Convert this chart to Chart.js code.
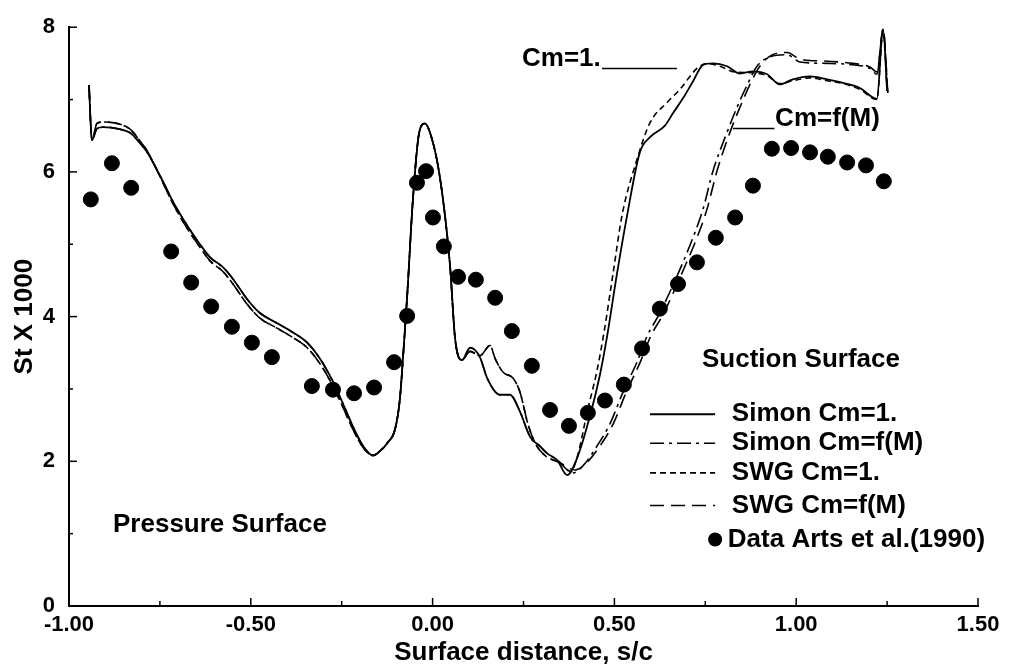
<!DOCTYPE html>
<html lang="en">
  <head>
    <meta charset="UTF-8" />
    <title>St x 1000 vs surface distance</title>
    <script src="https://cdn.jsdelivr.net/npm/chart.js"></script>
    <style>
      html, body { margin: 0; padding: 0; background: #fff; }
      .box { position: relative; width: 1011px; height: 668px; }
    </style>
  </head>
  <body>
    <div class="box"><canvas id="grafico"></canvas></div>

    <script>
      // measured data (Arts et al. 1990)
      const xData = [-0.940,-0.882,-0.829,-0.719,-0.664,-0.609,-0.552,-0.497,-0.442,-0.332,-0.274,-0.216,-0.161,-0.106,-0.070,-0.043,-0.018,0.001,0.031,0.070,0.119,0.172,0.218,0.273,0.323,0.375,0.427,0.474,0.526,0.576,0.625,0.675,0.727,0.779,0.832,0.881,0.933,0.986,1.038,1.087,1.140,1.192,1.241];
      const stData = [5.62,6.12,5.78,4.90,4.47,4.14,3.86,3.64,3.44,3.04,2.99,2.94,3.02,3.37,4.01,5.85,6.01,5.37,4.97,4.55,4.51,4.26,3.80,3.32,2.71,2.49,2.67,2.84,3.06,3.56,4.11,4.45,4.75,5.09,5.37,5.81,6.32,6.33,6.27,6.21,6.13,6.09,5.87];

      // pressure side
      const xPressure = [-0.945,-0.937,-0.923,-0.906,-0.860,-0.832,-0.805,-0.785,-0.750,-0.714,-0.675,-0.640,-0.612,-0.576,-0.549,-0.510,-0.475,-0.428,-0.384,-0.345,-0.310,-0.274,-0.246,-0.219,-0.191,-0.164];
      const stSimonPressure = [7.20,6.44,6.60,6.62,6.59,6.54,6.40,6.27,5.95,5.59,5.26,5.00,4.82,4.68,4.52,4.24,4.05,3.91,3.78,3.64,3.42,3.10,2.79,2.48,2.21,2.08];
      const stSwgPressure = [7.20,6.44,6.67,6.69,6.66,6.59,6.43,6.29,5.94,5.56,5.22,4.96,4.77,4.62,4.45,4.17,3.98,3.84,3.71,3.57,3.35,3.04,2.74,2.44,2.19,2.08];

      // leading edge
      const xLeading = [-0.145,-0.125,-0.103,-0.090,-0.081,-0.070,-0.054,-0.037,-0.021,-0.007,0.015,0.034,0.048,0.062,0.081];
      const stLeading = [2.14,2.25,2.45,2.86,3.46,4.28,5.63,6.54,6.67,6.54,6.08,5.40,4.70,3.69,3.40];

      // suction side, laminar part
      const xValleySimon = [0.103,0.130,0.150,0.185,0.213,0.240,0.268,0.295,0.315,0.342];
      const stValleySimon = [3.57,3.44,3.15,2.92,2.92,2.69,2.34,2.21,2.11,2.02];
      const xValleySwg = [0.103,0.130,0.158,0.172,0.194,0.221,0.240,0.262,0.282,0.309,0.350];
      const stValleySwg = [3.52,3.46,3.60,3.42,3.23,3.15,2.96,2.52,2.25,2.08,1.98];

      // suction side, transition and turbulent part
      const xSimonCm1 = [0.370,0.397,0.433,0.460,0.480,0.507,0.535,0.570,0.598,0.639,0.661,0.689,0.716,0.744,0.771,0.810,0.845,0.881,0.920,0.955,0.991,1.038,1.085,1.129,1.175,1.222,1.239,1.250];
      const stSimonCm1 = [1.81,2.04,2.63,3.19,3.73,4.59,5.40,6.27,6.48,6.64,6.81,7.02,7.25,7.48,7.50,7.46,7.36,7.39,7.35,7.21,7.28,7.32,7.28,7.23,7.16,7.01,7.97,7.12];
      const xSwgCm1 = [0.380,0.400,0.425,0.452,0.472,0.497,0.521,0.562,0.598,0.645,0.680,0.727,0.755,0.790,0.830,0.881,0.920,0.955,0.991,1.038,1.085,1.129,1.175,1.222,1.239,1.250];
      const stSwgCm1 = [1.86,2.10,2.68,3.25,3.80,4.62,5.40,6.17,6.68,6.96,7.14,7.43,7.50,7.46,7.38,7.37,7.33,7.22,7.26,7.30,7.26,7.22,7.14,7.00,7.95,7.12];
      const xSimonFm = [0.386,0.414,0.452,0.488,0.524,0.562,0.590,0.625,0.680,0.716,0.744,0.771,0.810,0.837,0.865,0.892,0.928,0.975,1.010,1.085,1.156,1.203,1.222,1.239,1.252];
      const stSimonFm = [1.84,1.94,2.21,2.52,2.96,3.37,3.73,4.05,4.65,5.09,5.49,6.01,6.55,6.89,7.20,7.46,7.59,7.62,7.52,7.50,7.48,7.43,7.35,7.97,7.09];
      const xSwgFm = [0.392,0.420,0.460,0.497,0.533,0.571,0.600,0.636,0.690,0.727,0.755,0.782,0.818,0.845,0.872,0.900,0.935,0.975,1.010,1.085,1.156,1.203,1.222,1.239,1.252];
      const stSwgFm = [1.88,1.96,2.21,2.52,2.96,3.37,3.73,4.05,4.65,5.09,5.49,6.01,6.55,6.89,7.20,7.46,7.62,7.65,7.56,7.53,7.50,7.45,7.38,7.97,7.09];

      const xTicks = [-1, -0.5, 0, 0.5, 1, 1.5];
      const yTicks = [0, 2, 4, 6, 8];

      function pts(xs, ys) {
        return xs.map((v, i) => ({ x: v, y: ys[i] }));
      }

      const simonCm1 = pts(xPressure, stSimonPressure).concat(pts(xLeading, stLeading), pts(xValleySimon, stValleySimon), pts(xSimonCm1, stSimonCm1));
      const simonFm = pts(xPressure, stSimonPressure).concat(pts(xLeading, stLeading), pts(xValleySimon, stValleySimon), pts(xSimonFm, stSimonFm));
      const swgCm1 = pts(xPressure, stSwgPressure).concat(pts(xLeading, stLeading), pts(xValleySwg, stValleySwg), pts(xSwgCm1, stSwgCm1));
      const swgFm = pts(xPressure, stSwgPressure).concat(pts(xLeading, stLeading), pts(xValleySwg, stValleySwg), pts(xSwgFm, stSwgFm));

      const FONT = '"Liberation Sans", Arial, Helvetica, sans-serif';

      function linha(label, data, dash, width) {
        return {
          label: label,
          data: data,
          showLine: true,
          borderColor: "#000",
          borderWidth: width,
          borderDash: dash,
          pointRadius: 0,
          cubicInterpolationMode: "monotone",
          fill: false,
        };
      }

      // ticks pointing inward, legend and text labels
      const anotacoes = {
        id: "anotacoes",
        afterDraw(chart) {
          const ctx = chart.ctx;
          const sx = chart.scales.x;
          const sy = chart.scales.y;
          const X = (v) => sx.getPixelForValue(v);
          const Y = (v) => sy.getPixelForValue(v);
          const area = chart.chartArea;
          ctx.save();
          ctx.strokeStyle = "#000";
          ctx.fillStyle = "#000";
          ctx.lineWidth = 1.5;

          for (let v = -1; v <= 1.5001; v += 0.25) {
            const major = Math.abs(v * 2 - Math.round(v * 2)) < 1e-6;
            const px = X(v);
            ctx.beginPath();
            ctx.moveTo(px, area.bottom);
            ctx.lineTo(px, area.bottom - (major ? 8 : 5));
            ctx.stroke();
          }
          for (let v = 0; v <= 8; v += 1) {
            const py = Y(v);
            ctx.beginPath();
            ctx.moveTo(area.left, py);
            ctx.lineTo(area.left + (v % 2 === 0 ? 8 : 4), py);
            ctx.stroke();
          }

          ctx.font = "bold 26px " + FONT;
          ctx.textBaseline = "middle";
          ctx.textAlign = "left";

          ctx.fillText("Pressure Surface", X(-0.879), Y(1.12));
          ctx.fillText("Suction Surface", X(0.741), Y(3.4));

          // Cm=1. ______
          ctx.fillText("Cm=1.", X(0.246), Y(7.56));
          ctx.beginPath();
          ctx.moveTo(X(0.466), Y(7.43));
          ctx.lineTo(X(0.672), Y(7.43));
          ctx.stroke();

          // ____Cm=f(M)
          ctx.fillText("Cm=f(M)", X(0.942), Y(6.74));
          ctx.beginPath();
          ctx.moveTo(X(0.826), Y(6.6));
          ctx.lineTo(X(0.94), Y(6.6));
          ctx.stroke();

          // legend
          const rows = [2.65, 2.25, 1.84, 1.39];
          const lines = chart.data.datasets.slice(1);
          lines.forEach((ds, i) => {
            const py = Y(rows[i]);
            ctx.save();
            ctx.lineWidth = ds.borderWidth;
            ctx.setLineDash(ds.borderDash);
            ctx.beginPath();
            ctx.moveTo(X(0.598), py);
            ctx.lineTo(X(0.777), py);
            ctx.stroke();
            ctx.restore();
            ctx.fillText(ds.label, X(0.823), py);
          });
          const dots = chart.data.datasets[0];
          ctx.beginPath();
          ctx.arc(X(0.777), Y(0.92), 7, 0, Math.PI * 2);
          ctx.fill();
          ctx.fillText(dots.label, X(0.812), Y(0.92));
          ctx.restore();
        },
      };

      const ctx = document.getElementById("grafico").getContext("2d");
      window.grafico = new Chart(ctx, {
        type: "scatter",
        data: {
          datasets: [
            {
              label: "Data Arts et al.(1990)",
              data: pts(xData, stData),
              backgroundColor: "#000",
              borderColor: "#000",
              pointRadius: 7.5,
              pointHoverRadius: 7.5,
            },
            linha("Simon Cm=1.", simonCm1, [], 1.8),
            linha("Simon Cm=f(M)", simonFm, [14, 5, 3, 5], 1.6),
            linha("SWG Cm=1.", swgCm1, [6, 4], 1.6),
            linha("SWG Cm=f(M)", swgFm, [14, 7], 1.6),
          ],
        },
        options: {
          responsive: true,
          maintainAspectRatio: false,
          animation: false,
          layout: { padding: { top: 15, right: 33, left: 0, bottom: 0 } },
          plugins: {
            legend: { display: false },
            tooltip: { enabled: false },
          },
          scales: {
            x: {
              type: "linear",
              min: -1,
              max: 1.5,
              afterFit: (s) => { s.height = 62; },
              afterBuildTicks: (s) => { s.ticks = xTicks.map((v) => ({ value: v })); },
              grid: { display: false, drawTicks: false },
              border: { display: true, color: "#000", width: 2 },
              ticks: {
                autoSkip: false,
                maxRotation: 0,
                padding: 6,
                color: "#000",
                font: { family: FONT, size: 22, weight: "bold" },
                callback: (v) => v.toFixed(2),
              },
              title: {
                display: true,
                text: "Surface distance, s/c",
                color: "#000",
                font: { family: FONT, size: 26, weight: "bold" },
                padding: { top: 0, bottom: 0 },
              },
            },
            y: {
              type: "linear",
              min: 0,
              max: 8,
              afterFit: (s) => { s.width = 69; },
              afterBuildTicks: (s) => { s.ticks = yTicks.map((v) => ({ value: v })); },
              grid: { display: false, drawTicks: false },
              border: { display: true, color: "#000", width: 2 },
              ticks: {
                padding: 14,
                color: "#000",
                font: { family: FONT, size: 22, weight: "bold" },
              },
              title: {
                display: true,
                text: "St X 1000",
                color: "#000",
                font: { family: FONT, size: 26, weight: "bold" },
                padding: { top: 9, bottom: 0 },
              },
            },
          },
        },
        plugins: [anotacoes],
      });
    </script>
  </body>
</html>
